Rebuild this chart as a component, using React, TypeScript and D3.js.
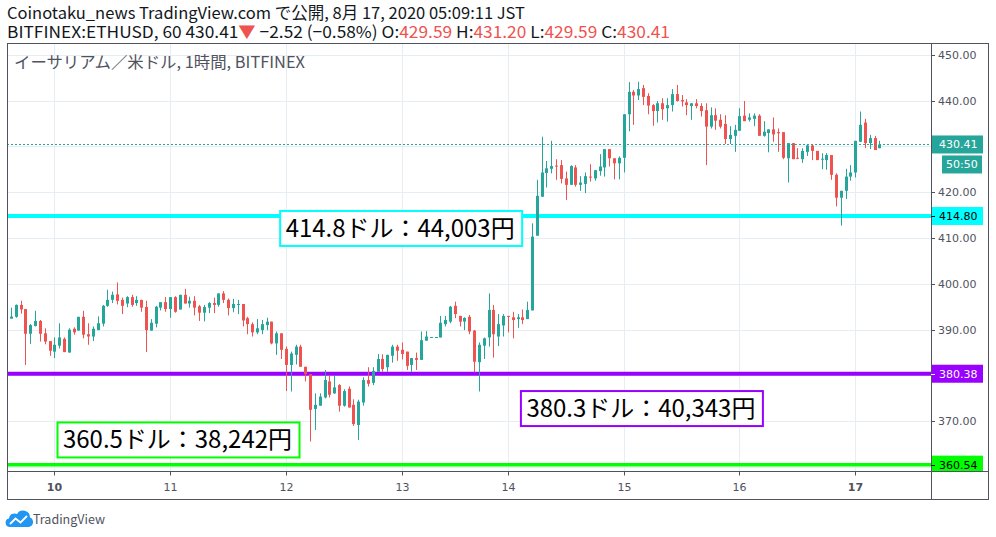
import React from "react";
import * as d3 from "d3";

// ---- Data (ETHUSD 1h, BITFINEX) ----
const opens = [392.4,392.8,395.4,394.5,389.1,390.8,391.9,389.2,387.5,385.2,386.5,388.0,385.0,390.2,389.8,392.8,389.0,388.5,389.9,391.3,395.2,396.5,397.7,
396.5,395.7,397.1,395.8,396.5,394.96,389.8,391.3,394.8,396.0,394.5,397.1,394.4,397.6,395.7,396.3,395.1,393.7,394.8,395.8,395.4,397.9,
396.5,394.7,395.5,395.6,392.5,391.2,389.4,389.9,391.0,391.75,387.0,389.2,385.8,382.3,384.5,386.3,381.9,380.3,372.7,373.4,375.2,378.7,
376.1,377.9,373.4,377.1,373.6,369.2,374.1,379.0,378.4,380.8,383.6,381.8,384.3,386.3,385.6,385.2,382.3,383.8,383.4,387.6,388.3,388.3,
388.3,391.2,391.75,395.2,393.0,391.75,392.8,389.8,382.9,386.5,388.3,394.3,388.5,390.9,393.0,392.7,392.3,392.7,392.3,
394.2,410.5,419.0,424.2,425.1,425.8,425.9,423.0,421.6,425.4,421.6,421.8,423.4,423.0,424.6,425.4,429.4,427.4,426.3,
427.5,437.0,441.9,441.1,442.7,441.0,439.0,437.7,439.4,438.3,439.0,441.4,440.1,439.6,438.8,439.4,438.8,437.9,434.3,436.8,435.8,434.9,431.6,432.3,
433.4,436.7,435.8,436.0,436.7,432.3,432.9,433.7,433.1,433.1,427.4,430.7,427.5,427.2,428.8,430.2,429.0,427.2,427.0,428.1,423.8,418.8,420.3,423.4,
424.3,431.0,435.2,430.7,431.8,429.59];
const highs = [394.8,395.5,396.3,394.5,391.2,394.1,392.1,390.3,387.5,388.3,391.4,388.3,390.3,390.5,392.8,394.1,391.4,390.7,392.9,395.4,398.7,398.3,400.3,
397.0,397.3,397.6,397.3,396.5,396.3,392.3,395.2,396.0,397.1,397.1,397.3,397.6,398.9,397.2,397.3,395.4,395.4,396.0,397.0,397.9,398.4,
396.8,396.7,396.5,395.6,392.8,391.6,392.3,392.1,392.6,391.75,389.6,389.2,386.3,385.2,386.7,386.7,381.9,380.3,376.1,376.1,381.2,380.1,
379.9,378.1,377.0,377.6,374.8,374.7,379.6,381.8,381.8,384.7,384.6,384.5,386.7,386.7,387.2,385.2,383.8,385.0,389.6,389.7,388.4,388.4,
393.0,393.0,395.2,396.1,393.0,392.7,393.2,389.9,387.2,388.3,397.9,395.4,393.4,393.4,393.0,393.9,393.4,394.4,396.1,
413.2,422.7,432.1,426.8,431.2,427.2,427.0,424.5,425.9,425.9,423.5,424.3,426.1,424.8,428.3,429.4,429.4,427.4,427.8,
437.0,444.0,442.3,444.1,443.4,441.6,439.2,439.9,440.5,440.5,442.5,443.4,441.2,440.3,439.4,440.3,439.4,439.4,438.5,438.3,437.0,436.8,434.4,434.7,
438.3,439.9,437.2,437.2,437.0,435.5,433.7,436.3,433.9,433.1,430.7,430.7,429.6,429.6,430.3,430.4,429.0,428.5,428.5,428.1,424.1,420.3,425.1,425.9,
431.2,437.6,436.0,432.5,432.3,431.20];
const lows = [392.4,392.6,393.5,382.3,386.9,390.7,387.4,386.8,384.3,383.8,385.9,385.1,385.0,388.9,389.8,388.1,386.7,387.5,389.9,390.7,395.0,395.8,395.5,
393.4,394.9,395.0,395.2,393.9,385.1,389.8,390.5,394.2,393.9,392.6,393.7,394.4,395.7,394.8,393.1,391.9,391.8,393.6,393.6,395.0,395.8,
393.1,393.8,393.4,390.7,389.0,388.5,389.0,389.0,389.9,386.8,384.5,383.6,376.6,376.5,382.4,381.9,378.7,365.6,368.1,373.4,375.0,375.2,
376.0,372.1,373.2,373.0,369.0,365.9,373.4,377.6,377.9,380.8,380.8,380.8,382.8,383.2,383.5,381.2,380.8,381.2,383.4,387.6,388.3,388.3,
388.3,390.7,391.4,392.5,390.7,389.9,389.0,380.7,376.5,383.6,386.3,383.9,386.4,388.5,389.4,388.1,390.4,391.2,392.3,
394.2,410.5,419.0,421.0,424.1,422.7,421.9,418.3,421.6,421.2,420.3,419.8,422.3,422.5,423.6,423.4,425.6,422.8,422.8,
424.3,433.3,434.7,440.1,439.0,437.0,434.5,435.2,435.8,435.4,437.6,439.8,438.7,436.8,435.8,438.3,436.5,425.9,433.9,433.6,433.9,430.5,430.5,428.8,
433.4,435.5,435.4,434.4,432.3,432.1,428.7,431.0,428.8,427.2,422.1,427.2,427.2,426.4,427.9,427.0,427.0,425.0,424.9,422.7,416.9,412.7,418.5,422.5,
423.2,431.0,429.6,429.4,429.2,429.59];
const closes = [392.85,395.4,394.4,389.1,391.0,391.9,389.1,387.4,385.4,386.7,388.3,385.1,390.0,389.4,392.8,388.9,388.5,390.2,391.4,395.2,396.5,397.6,396.3,
395.2,397.1,395.4,396.5,394.8,389.9,391.5,395.0,396.0,394.5,397.1,393.9,397.6,395.7,396.3,394.8,393.7,394.96,395.8,395.4,397.9,396.5,
394.7,395.6,395.6,392.0,391.2,389.4,390.3,391.2,391.75,387.0,389.2,385.6,382.3,384.8,386.3,381.9,380.3,372.5,373.6,375.4,379.0,375.8,
377.4,373.4,376.6,373.0,369.4,374.3,379.0,378.2,381.0,383.6,381.4,384.5,386.3,385.4,384.7,382.1,383.8,383.4,387.7,388.5,388.4,388.4,
391.5,392.1,395.0,393.4,391.75,392.55,389.6,383.0,386.7,388.1,394.3,389.0,391.2,393.0,392.85,392.1,392.7,392.1,394.3,
410.3,419.2,424.3,425.2,425.7,425.6,422.9,421.6,425.7,421.6,422.1,423.5,423.2,424.8,425.6,429.4,427.4,426.3,427.5,
437.0,441.9,441.1,442.5,440.8,438.9,437.7,439.4,438.1,439.0,441.4,439.9,439.8,439.0,439.4,438.8,437.7,434.3,436.8,435.6,434.3,431.6,432.5,433.6,
436.6,435.5,436.3,436.7,432.3,433.2,433.7,432.6,432.85,427.5,430.7,427.2,427.4,429.0,430.2,429.0,427.0,427.3,428.1,423.8,418.8,420.3,423.4,424.3,
431.2,434.7,430.7,431.8,429.2,430.41];

const dayLabels = ["10", "11", "12", "13", "14", "15", "16", "17"];
const dayBarIndex = [9, 33, 57, 81, 103, 127, 151, 175];
const boldDays = ["10", "17"];
const priceTicks = [450, 440, 420, 410, 400, 390, 370];
const gridPrices = [450, 440, 430, 420, 410, 400, 390, 380, 370, 360];

const lastPrice = 430.41;
const levelPrices = [414.8, 380.38, 360.54];
const levelColors = ["#00FFFF", "#9900FF", "#00FF00"];
const levelTextColors = ["#000000", "#ffffff", "#000000"];
const noteTexts = ["414.8ドル：44,003円", "380.3ドル：40,343円", "360.5ドル：38,242円"];
const noteAnchorBar = [55.8, 105.7, 9.66];
const noteAnchorPrice = [415.9, 376.6, 369.75];

const UP = "#26a69a";
const DOWN = "#ef5350";
const AXIS = "#50535e";
const GRID = "#e6edf3";

export default function App() {
  const W = 996, H = 537;
  const left = 7, top = 43, right = 931, bottom = 471.5, frameRight = 989, frameBottom = 500;
  const x = d3.scaleLinear().domain([0, 180]).range([10.9, 879.4]);
  const y = d3.scaleLinear().domain([370, 450]).range([421.3, 54.7]);
  const bw = 3;
  const font = "'Noto Sans CJK JP', 'Noto Sans', sans-serif";
  const axisFont = "'DejaVu Sans', 'Noto Sans', sans-serif";

  const candles = opens.map((o, i) => {
    const c = closes[i], h = highs[i], l = lows[i];
    const up = c >= o;
    const col = up ? UP : DOWN;
    const cx = Math.round(x(i)) + 0.5;
    const yt = y(Math.max(o, c)), yb = y(Math.min(o, c));
    return (
      <g key={i}>
        <line x1={cx} x2={cx} y1={y(h)} y2={y(l)} stroke={col} strokeWidth={1} />
        <rect x={cx - bw / 2} y={yt} width={bw} height={Math.max(1, yb - yt)} fill={col} />
      </g>
    );
  });

  const boxW = 242, boxH = 35;

  return (
    <svg width={W} height={H} style={{ position: "absolute", left: 0, top: 0, background: "#fff" }}>
      <defs>
        <clipPath id="plot"><rect x={left} y={top} width={right - left} height={bottom - top} /></clipPath>
      </defs>
      <rect x={0} y={0} width={W} height={H} fill="#fff" />
      {/* header */}
      <text x={7} y={19} fontFamily={font} fontSize={16.5} fill="#131722" textLength={518} lengthAdjust="spacingAndGlyphs">Coinotaku_news TradingView.com で公開, 8月 17, 2020 05:09:11 JST</text>
      <text x={7} y={37.5} fontFamily={font} fontSize={16.5} fill="#131722" textLength={663} lengthAdjust="spacingAndGlyphs">
        BITFINEX:ETHUSD, 60 430.41<tspan fill={DOWN}>▼</tspan> −2.52 (−0.58%) O:<tspan fill={DOWN}>429.59</tspan> H:<tspan fill={DOWN}>431.20</tspan> L:<tspan fill={DOWN}>429.59</tspan> C:<tspan fill={DOWN}>430.41</tspan>
      </text>

      {/* grid */}
      <g clipPath="url(#plot)">
        {gridPrices.map((p) => (
          <line key={p} x1={left} x2={right} y1={Math.round(y(p)) + 0.5} y2={Math.round(y(p)) + 0.5} stroke={GRID} />
        ))}
        {dayBarIndex.map((b) => (
          <line key={b} x1={Math.round(x(b)) + 0.5} x2={Math.round(x(b)) + 0.5} y1={top} y2={bottom} stroke={GRID} />
        ))}
      </g>

      <text x={14} y={68} fontFamily={font} fontSize={16} fill="#50535e" textLength={291} lengthAdjust="spacingAndGlyphs">イーサリアム／米ドル, 1時間, BITFINEX</text>

      <g clipPath="url(#plot)">
        {levelPrices.map((p, i) => (
          <line key={p} x1={left} x2={right} y1={y(p)} y2={y(p)} stroke={levelColors[i]} strokeWidth={i === 2 ? 3.5 : 4} />
        ))}
        {candles}
        <line x1={left} x2={right} y1={Math.round(y(lastPrice)) + 0.5} y2={Math.round(y(lastPrice)) + 0.5} stroke={UP} strokeDasharray="2,2" />
        {noteTexts.map((t, i) => {
          const bx = x(noteAnchorBar[i]), by = y(noteAnchorPrice[i]);
          return (
            <g key={t}>
              <rect x={bx} y={by} width={boxW} height={boxH} fill="#fff" stroke={levelColors[i]} strokeWidth={2} />
              <text x={bx + 5.5} y={by + 26} fontFamily={font} fontSize={24} fill="#000" textLength={229} lengthAdjust="spacingAndGlyphs">{t}</text>
            </g>
          );
        })}
      </g>

      {/* frame */}
      <rect x={left + 0.5} y={top + 0.5} width={frameRight - left - 1} height={frameBottom - top - 1} fill="none" stroke={AXIS} />
      <line x1={right + 0.5} x2={right + 0.5} y1={top} y2={frameBottom} stroke={AXIS} />
      <line x1={left} x2={frameRight} y1={bottom} y2={bottom} stroke={AXIS} />

      {/* price axis */}
      {priceTicks.map((p) => (
        <g key={p}>
          <line x1={right} x2={right + 4} y1={Math.round(y(p)) + 0.5} y2={Math.round(y(p)) + 0.5} stroke={AXIS} />
          <text x={938} y={y(p) + 4} fontFamily={axisFont} fontSize={11} fill={AXIS}>{p.toFixed(2)}</text>
        </g>
      ))}
      <rect x={right + 1} y={y(lastPrice) - 9} width={51} height={18} fill={UP} />
      <text x={939} y={y(lastPrice) + 4} fontFamily={axisFont} fontSize={11} fill="#fff">{lastPrice.toFixed(2)}</text>
      <rect x={942} y={y(lastPrice) + 11} width={40} height={18} fill={UP} />
      <text x={946} y={y(lastPrice) + 24} fontFamily={axisFont} fontSize={11} fill="#fff">50:50</text>
      {levelPrices.map((p, i) => {
        const cy = y(p);
        const y0 = cy - 9;
        const h = Math.min(18, bottom - 0.5 - y0);
        return (
          <g key={p}>
            <rect x={right + 1} y={y0} width={51} height={h} fill={levelColors[i]} />
            <line x1={right} x2={right + 4} y1={Math.round(cy) + 0.5} y2={Math.round(cy) + 0.5} stroke={levelTextColors[i]} />
            <text x={939} y={cy + 4} fontFamily={axisFont} fontSize={11} fill={levelTextColors[i]}>{p.toFixed(2)}</text>
          </g>
        );
      })}

      {/* time axis */}
      {dayLabels.map((d, i) => {
        const tx = Math.round(x(dayBarIndex[i])) + 0.5;
        return (
          <g key={d}>
            <line x1={tx} x2={tx} y1={bottom} y2={bottom + 4} stroke={AXIS} />
            <text x={tx} y={491} textAnchor="middle" fontFamily={axisFont} fontSize={11}
              fontWeight={boldDays.includes(d) ? "bold" : "normal"} fill={AXIS}>{d}</text>
          </g>
        );
      })}

      {/* logo */}
      <g>
        <path d="M10 527 H29 A5 5 0 0 0 30 517.5 A7 7 0 0 0 17 514 A5.5 5.5 0 0 0 9 518.5 A4.3 4.3 0 0 0 10 527 Z" fill="#2196f3" />
        <polyline points="10,524 15.5,518.5 20.5,522.5 27,516" fill="none" stroke="#fff" strokeWidth={1.8} />
      </g>
      <text x={33} y={524} fontFamily={font} fontSize={13} fill="#50535e" textLength={72} lengthAdjust="spacingAndGlyphs">TradingView</text>
    </svg>
  );
}
